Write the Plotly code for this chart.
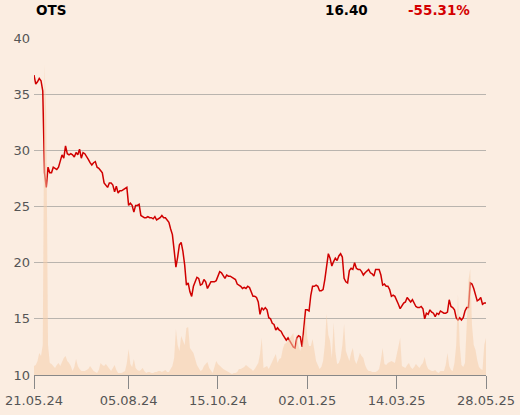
import plotly.graph_objects as go

# trading sessions 21.05.24 .. 28.05.25 (index 0..258)
close = [
    36.7, 35.9, 36.1, 36.4, 36.2, 35.3, 28.0, 26.7, 28.5, 28.0,
    28.0, 28.5, 28.4, 28.3, 28.5, 29.0, 29.6, 29.3, 30.4, 29.7,
    29.6, 29.7, 29.6, 29.4, 29.8, 29.6, 30.1, 29.3, 29.8, 29.7,
    29.5, 29.2, 28.9, 28.7, 28.9, 29.0, 28.5, 28.4, 28.2, 28.0,
    27.1, 26.9, 26.7, 27.1, 27.1, 26.9, 26.3, 26.8, 26.2, 26.4,
    26.4, 26.5, 26.6, 26.7, 25.1, 25.3, 25.1, 24.5, 25.1, 25.1,
    25.2, 24.2, 24.1, 24.0, 24.0, 24.1, 24.0, 24.0, 23.9, 24.1,
    23.8, 23.9, 24.0, 24.2, 24.0, 24.0, 23.8, 23.6, 23.0, 22.5,
    21.1, 19.6, 20.5, 21.6, 21.8, 21.0, 19.8, 18.0, 18.2, 17.4,
    17.0, 17.9, 18.3, 18.7, 18.6, 18.0, 18.1, 18.5, 18.3, 17.7,
    18.0, 18.3, 18.3, 18.3, 18.4, 18.9, 19.2, 19.1, 18.9, 18.6,
    18.9, 18.8, 18.8, 18.7, 18.6, 18.5, 18.1, 18.0, 17.9, 17.7,
    17.8, 17.7, 17.9, 17.8, 17.4, 17.0, 17.0, 16.9, 16.5, 15.4,
    16.0, 15.8, 16.0, 15.8, 15.1, 15.0, 14.6, 14.5, 14.0, 14.2,
    14.0, 13.9, 13.6, 13.3, 13.1, 13.3, 13.0, 12.7, 12.5, 12.4,
    13.3, 13.5, 13.4, 12.5, 14.0, 15.8, 15.8, 15.7, 17.1, 17.9,
    17.9, 18.0, 17.9, 17.5, 17.5, 17.6, 18.5, 19.8, 20.8, 20.4,
    19.7, 20.1, 20.4, 20.2, 20.6, 20.8, 20.5, 18.6, 18.3, 18.2,
    19.3, 19.5, 19.4, 20.0, 19.5, 19.4, 19.4, 19.2, 18.9, 19.1,
    19.3, 19.4, 19.1, 19.0, 18.8, 19.4, 19.4, 19.4, 18.9, 18.0,
    18.1, 17.9, 17.9, 17.6, 17.0, 17.1, 17.0, 16.7, 16.3, 15.9,
    16.2, 16.4, 16.5, 16.9, 16.7, 16.5, 16.7, 16.4, 16.1, 16.0,
    16.0, 16.1, 15.9, 15.0, 15.5, 15.4, 15.8, 15.6, 15.5, 15.2,
    15.5, 15.4, 15.7, 15.6, 15.5, 15.5, 15.6, 16.7, 16.1, 16.0,
    15.8, 15.1, 14.9, 15.1, 14.9, 15.1, 15.7, 16.0, 16.0, 18.2,
    18.1, 17.7, 17.0, 16.6, 16.7, 16.9, 16.3, 16.4, 16.4,
]

# volume in thousand shares
volume = [
    9, 10, 14, 22, 19, 30, 310, 260, 30, 12,
    11, 9, 7, 10, 12, 9, 14, 17, 19, 14,
    12, 9, 4, 8, 16, 9, 6, 4, 4, 4,
    5, 6, 9, 6, 4, 3, 2, 5, 12, 10,
    9, 11, 9, 7, 4, 7, 10, 5, 2, 2,
    2, 3, 4, 12, 26, 11, 8, 16, 7, 5,
    4, 5, 7, 4, 2, 3, 3, 2, 2, 3,
    3, 4, 4, 3, 4, 5, 3, 3, 6, 9,
    17, 46, 30, 24, 39, 34, 30, 47, 48, 27,
    24, 22, 16, 10, 7, 4, 5, 9, 11, 13,
    7, 5, 2, 8, 14, 11, 9, 7, 6, 5,
    4, 3, 2, 1, 2, 2, 3, 6, 6, 7,
    8, 10, 8, 7, 6, 4, 6, 9, 12, 21,
    37, 7, 8, 9, 6, 10, 14, 18, 21, 12,
    16, 17, 26, 31, 32, 34, 37, 40, 42, 27,
    41, 29, 24, 30, 41, 59, 37, 29, 29, 36,
    22, 14, 10, 6, 8, 14, 30, 61, 40, 34,
    17, 52, 24, 11, 12, 17, 30, 51, 24, 18,
    14, 22, 27, 15, 11, 16, 22, 19, 17, 10,
    6, 4, 4, 3, 3, 3, 4, 6, 15, 27,
    11, 10, 12, 13, 14, 13, 12, 20, 30, 37,
    9, 8, 7, 10, 12, 8, 6, 8, 11, 9,
    7, 10, 12, 18, 10, 6, 5, 4, 4, 5,
    3, 2, 4, 4, 4, 10, 22, 9, 5, 4,
    12, 30, 80, 30, 10, 8, 12, 50, 95, 106,
    50, 30, 25, 15, 8, 6, 5, 30, 37,
]

session = list(range(len(close)))
tick_sessions = [0, 54, 105, 156, 207, 258]
tick_labels = ['21.05.24', '05.08.24', '15.10.24', '02.01.25', '14.03.25', '28.05.25']

name = 'OTS'
last_price = '16.40'
change = '-55.31%'

BG = '#fbede1'
FONT = 'DejaVu Sans'

fig = go.Figure()
fig.add_trace(go.Scatter(x=session, y=volume, yaxis='y2', mode='lines',
    fill='tozeroy', fillcolor='rgba(245,205,172,0.55)', line=dict(width=0),
    hoverinfo='skip', showlegend=False))
fig.add_trace(go.Scatter(x=session, y=close, mode='lines',
    line=dict(color='#d00000', width=1.5), showlegend=False))

fig.update_layout(
    width=520, height=415,
    paper_bgcolor=BG, plot_bgcolor=BG,
    margin=dict(l=34, r=34, t=38, b=40, autoexpand=False),
    font=dict(family=FONT, size=13, color='#555555'),
    xaxis=dict(range=[0, 258], tickvals=tick_sessions, ticktext=tick_labels,
        automargin=False, showgrid=False, zeroline=False, showline=True,
        linecolor='#888888', ticks='outside', ticklen=13, tickcolor='#888888',
        tickwidth=1, tickfont=dict(size=13, color='#555555')),
    yaxis=dict(range=[10, 40], tickvals=[10, 15, 20, 25, 30, 35, 40],
        automargin=False, showgrid=True, gridcolor='#b9b4ae', gridwidth=1,
        zeroline=False, ticks='', ticklabelstandoff=3,
        tickfont=dict(size=13, color='#555555')),
    yaxis2=dict(range=[0, 337], overlaying='y', visible=False),
    annotations=[
        dict(text='<b>' + name + '</b>', x=0.0, y=1.083, xref='paper', yref='paper',
             xanchor='left', yanchor='middle', showarrow=False,
             font=dict(family=FONT, size=13.5, color='#000000')),
        dict(text='<b>' + last_price + '</b>', x=0.743, y=1.083, xref='paper', yref='paper',
             xanchor='right', yanchor='middle', showarrow=False,
             font=dict(family=FONT, size=13.5, color='#000000')),
        dict(text='<b>' + change + '</b>', x=0.969, y=1.083, xref='paper', yref='paper',
             xanchor='right', yanchor='middle', showarrow=False,
             font=dict(family=FONT, size=13.5, color='#d40000')),
    ],
)

# drop the default page margin so the chart sits at the window's corner
fig.write_html('out.html', config={'displayModeBar': False}, post_script=(
    "document.body.style.margin='0';"
    "document.body.style.background='" + BG + "';"
    "document.body.style.overflow='hidden';"))
